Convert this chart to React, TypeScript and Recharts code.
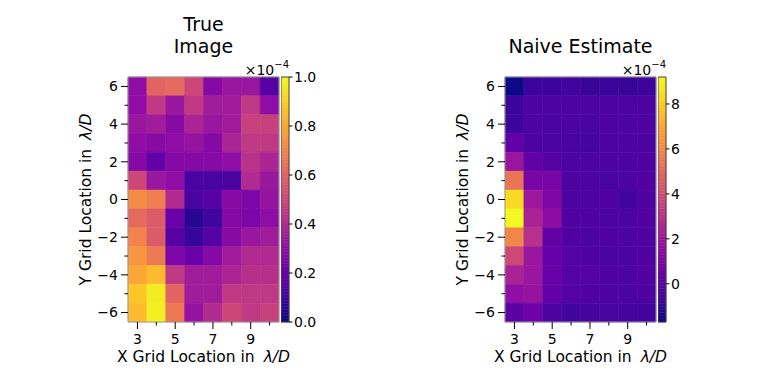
import React from "react";
import { ScatterChart, Scatter, XAxis, YAxis, ReferenceArea, Label } from "recharts";

// grid coordinates (lambda/D)
const X_VALUES = [3, 4, 5, 6, 7, 8, 9, 10];
const Y_VALUES = [6, 5, 4, 3, 2, 1, 0, -1, -2, -3, -4, -5, -6];
const X_LABELED = [3, 5, 7, 9];
const Y_LABELED = [6, 4, 2, 0, -2, -4, -6];

// values in units of 1e-4, rows top (y=6) to bottom (y=-6)
const TRUE_IMAGE = [
  [0.30, 0.60, 0.62, 0.50, 0.27, 0.33, 0.33, 0.15],
  [0.30, 0.45, 0.33, 0.45, 0.35, 0.35, 0.45, 0.30],
  [0.33, 0.35, 0.28, 0.38, 0.33, 0.35, 0.48, 0.48],
  [0.30, 0.28, 0.30, 0.32, 0.27, 0.38, 0.45, 0.45],
  [0.27, 0.18, 0.27, 0.27, 0.28, 0.30, 0.43, 0.38],
  [0.50, 0.33, 0.30, 0.12, 0.12, 0.12, 0.40, 0.33],
  [0.72, 0.68, 0.40, 0.12, 0.15, 0.28, 0.25, 0.32],
  [0.62, 0.57, 0.20, 0.05, 0.10, 0.27, 0.25, 0.30],
  [0.70, 0.57, 0.15, 0.08, 0.15, 0.28, 0.33, 0.35],
  [0.75, 0.67, 0.25, 0.20, 0.27, 0.35, 0.40, 0.40],
  [0.80, 0.85, 0.45, 0.35, 0.35, 0.38, 0.42, 0.42],
  [0.88, 0.97, 0.60, 0.35, 0.35, 0.45, 0.45, 0.45],
  [0.85, 0.98, 0.66, 0.32, 0.40, 0.50, 0.45, 0.48],
];

const NAIVE_ESTIMATE = [
  [-1.7, -0.7, -0.7, -0.6, -0.8, -0.7, -0.8, -0.7],
  [-0.7, -0.3, -0.3, -0.3, -0.3, -0.3, -0.3, -0.3],
  [-0.7, -0.3, -0.4, -0.3, -0.4, -0.3, -0.3, -0.2],
  [0.2, -0.3, -0.3, -0.4, -0.5, -0.3, -0.3, -0.3],
  [1.9, 0.2, -0.1, -0.3, -0.3, -0.3, -0.3, -0.2],
  [5.4, 0.9, 0.9, -0.3, -0.3, -0.4, -0.3, -0.2],
  [8.4, 2.0, 1.1, -0.3, -0.3, -0.2, -0.6, -0.3],
  [9.2, 2.4, 1.5, -0.2, -0.2, -0.3, -0.3, -0.2],
  [6.0, 2.9, 0.3, -0.2, -0.3, -0.2, -0.3, -0.2],
  [3.8, 1.9, 0.4, -0.1, -0.2, -0.3, -0.3, -0.2],
  [2.4, 1.9, 0.4, -0.1, -0.1, -0.2, -0.3, -0.2],
  [1.6, 1.8, 0.3, -0.1, -0.2, -0.3, -0.3, -0.2],
  [0.1, 0.6, -0.3, -0.6, -0.5, -0.4, -0.5, -0.6],
];

const TRUE_RANGE: [number, number] = [0, 1];
const NAIVE_RANGE: [number, number] = [-1.7, 9.2];
const TRUE_TICKS = [0, 0.2, 0.4, 0.6, 0.8, 1.0];
const NAIVE_TICKS = [0, 2, 4, 6, 8];

const FONT = "'DejaVu Sans', sans-serif";

const PLASMA = ["#0d0887", "#41049d", "#6a00a8", "#8f0da4", "#b12a90", "#cc4778",
  "#e16462", "#f2844b", "#fca636", "#fcce25", "#f0f921"];

function hexRgb(h: string) {
  return [1, 3, 5].map((i) => parseInt(h.slice(i, i + 2), 16));
}

function plasma(t: number) {
  const s = Math.min(Math.max(t, 0), 1) * 10;
  const i = Math.min(Math.floor(s), 9);
  const f = s - i;
  const a = hexRgb(PLASMA[i]);
  const b = hexRgb(PLASMA[i + 1]);
  const c = a.map((v, k) => Math.round(v + (b[k] - v) * f));
  return `rgb(${c[0]},${c[1]},${c[2]})`;
}

const fmtMinus = (v: number) => (v < 0 ? `\u2212${Math.abs(v)}` : String(v));

function XTick({ x, y, payload }: any) {
  const major = X_LABELED.includes(payload.value);
  return (
    <g>
      <line x1={x} x2={x} y1={y} y2={y + (major ? 7 : 3.5)} stroke="#000" />
      {major && (
        <text x={x} y={y + 22} textAnchor="middle" fontSize={14} fill="#000" fontFamily={FONT}>
          {payload.value}
        </text>
      )}
    </g>
  );
}

function YTick({ x, y, payload }: any) {
  const major = Y_LABELED.includes(payload.value);
  return (
    <g>
      <line x1={x} x2={x - (major ? 7 : 3.5)} y1={y} y2={y} stroke="#000" />
      {major && (
        <text x={x - 10} y={y} dy="0.35em" textAnchor="end" fontSize={14} fill="#000" fontFamily={FONT}>
          {fmtMinus(payload.value)}
        </text>
      )}
    </g>
  );
}

function XLabel({ viewBox }: any) {
  return (
    <text x={viewBox.x + viewBox.width / 2} y={viewBox.y + 40} textAnchor="middle" fontSize={15.5} fill="#000" fontFamily={FONT}>
      X Grid Location in<tspan dx={9} fontStyle="italic">λ/D</tspan>
    </text>
  );
}

function YLabel({ viewBox }: any) {
  const x = viewBox.x + 31;
  const y = viewBox.y + viewBox.height / 2;
  return (
    <text x={x} y={y} transform={`rotate(-90 ${x} ${y})`} textAnchor="middle" fontSize={15.5} fill="#000" fontFamily={FONT}>
      Y Grid Location in<tspan dx={9} fontStyle="italic">λ/D</tspan>
    </text>
  );
}

function Heatmap({ left, values, range }: { left: number; values: number[][]; range: [number, number] }) {
  const cells = Y_VALUES.flatMap((yv, r) => X_VALUES.map((xv, c) => ({ x: xv, y: yv, v: values[r][c] })));
  return (
    <div style={{ position: "absolute", left, top: 0 }}>
      <ScatterChart width={330} height={384} margin={{ top: 77, right: 51, bottom: 12, left: 60 }}>
        <XAxis type="number" dataKey="x" domain={[2.5, 10.5]} ticks={X_VALUES} interval={0}
          tickSize={0} tickMargin={0} axisLine={false} tick={XTick} height={50} allowDataOverflow>
          <Label content={XLabel} />
        </XAxis>
        <YAxis type="number" dataKey="y" domain={[-6.5, 6.5]} ticks={Y_VALUES} interval={0}
          tickSize={0} tickMargin={0} axisLine={false} tick={YTick} width={68} allowDataOverflow>
          <Label content={YLabel} />
        </YAxis>
        {cells.map((d) => {
          const col = plasma((d.v - range[0]) / (range[1] - range[0]));
          return (
            <ReferenceArea key={`${d.x}_${d.y}`} x1={d.x - 0.5} x2={d.x + 0.5} y1={d.y - 0.5} y2={d.y + 0.5}
              fill={col} fillOpacity={1} stroke={col} strokeWidth={0.6} />
          );
        })}
        <ReferenceArea x1={2.5} x2={10.5} y1={-6.5} y2={6.5} fill="none" fillOpacity={0} stroke="#9a9a9a" strokeWidth={1} />
        <Scatter data={cells} isAnimationActive={false} shape={() => <g />} />
      </ScatterChart>
    </div>
  );
}

function Colorbar({ left, range, ticks, digits }: { left: number; range: [number, number]; ticks: number[]; digits: number }) {
  const n = 80;
  const step = (range[1] - range[0]) / n;
  const bands = Array.from({ length: n }, (_, i) => ({ y1: range[0] + i * step, y2: range[0] + (i + 1) * step, t: (i + 0.5) / n }));
  const tick = ({ x, y, payload }: any) => (
    <g>
      <line x1={x} x2={x + 3.5} y1={y} y2={y} stroke="#000" />
      <text x={x + 5} y={y} dy="0.35em" textAnchor="start" fontSize={14} fill="#000" fontFamily={FONT}>
        {digits > 0 ? payload.value.toFixed(digits) : fmtMinus(payload.value)}
      </text>
    </g>
  );
  return (
    <div style={{ position: "absolute", left, top: 0 }}>
      <ScatterChart width={60} height={384} margin={{ top: 77, right: 0, bottom: 62, left: 0 }}>
        <XAxis type="number" dataKey="x" domain={[0, 1]} hide />
        <YAxis type="number" dataKey="y" orientation="right" domain={range} ticks={ticks} interval={0}
          tickSize={0} tickMargin={0} axisLine={false} tick={tick} width={52} allowDataOverflow />
        {bands.map((b, i) => (
          <ReferenceArea key={i} x1={0} x2={1} y1={b.y1} y2={b.y2} fill={plasma(b.t)} fillOpacity={1}
            stroke={plasma(b.t)} strokeWidth={0.5} />
        ))}
        <ReferenceArea x1={0} x2={1} y1={range[0]} y2={range[1]} fill="none" fillOpacity={0} stroke="#444" strokeWidth={1} />
        <Scatter data={[{ x: 0.5, y: range[0] }, { x: 0.5, y: range[1] }]} isAnimationActive={false} shape={() => <g />} />
      </ScatterChart>
    </div>
  );
}

function OffsetText({ right }: { right: number }) {
  return (
    <text x={right} y={75} textAnchor="end" fontSize={14} fill="#000" fontFamily={FONT}>
      ×10<tspan dy={-7} fontSize={10}>−4</tspan>
    </text>
  );
}

export default function App() {
  return (
    <div style={{ position: "fixed", left: 0, top: 0, width: 781, height: 384, background: "#fff", fontFamily: FONT }}>
      <Heatmap left={0} values={TRUE_IMAGE} range={TRUE_RANGE} />
      <Colorbar left={281} range={TRUE_RANGE} ticks={TRUE_TICKS} digits={1} />
      <Heatmap left={377} values={NAIVE_ESTIMATE} range={NAIVE_RANGE} />
      <Colorbar left={658} range={NAIVE_RANGE} ticks={NAIVE_TICKS} digits={0} />
      <svg width={781} height={384} style={{ position: "absolute", left: 0, top: 0, pointerEvents: "none" }}>
        <text x={203.5} y={31} textAnchor="middle" fontSize={19} fontFamily={FONT} fill="#000">True</text>
        <text x={203.5} y={53} textAnchor="middle" fontSize={19} fontFamily={FONT} fill="#000">Image</text>
        <text x={580.5} y={53} textAnchor="middle" fontSize={19} fontFamily={FONT} fill="#000">Naive Estimate</text>
        <OffsetText right={289} />
        <OffsetText right={666} />
      </svg>
    </div>
  );
}
